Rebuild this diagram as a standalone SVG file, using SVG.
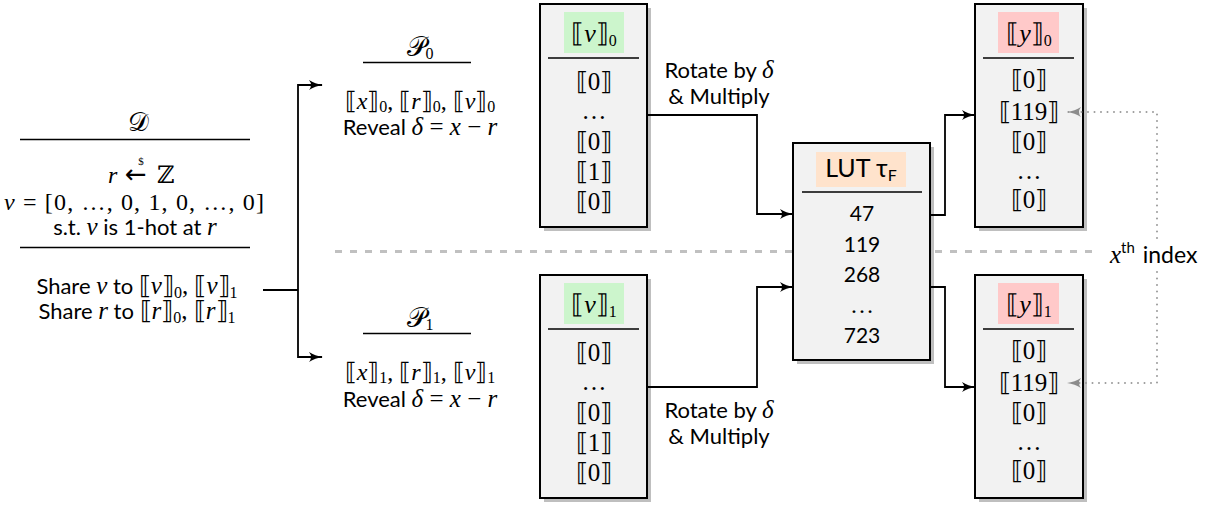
<svg xmlns="http://www.w3.org/2000/svg" width="1218" height="506" viewBox="0 0 1218 506">
  <style>
    .sans { font-family: "Lato", "Open Sans", "DejaVu Sans", sans-serif; font-size: 22px; fill: #000; }
    .m { font-family: "Liberation Serif", "DejaVu Serif", serif; font-style: italic; }
    .r { font-family: "Liberation Serif", "DejaVu Serif", serif; font-style: normal; }
    .math { font-family: "Liberation Serif", "DejaVu Serif", serif; font-size: 24px; fill: #000; }
    .head { font-size: 26px; }
    .big { font-size: 25px; }
    .sub { font-size: 16px; }
    .box { fill: #f2f2f2; stroke: #000; stroke-width: 2; }
    .shadow { fill: #bfbfbf; }
    .rule { stroke: #000; stroke-width: 1.3; }
    .wire { fill: none; stroke: #000; stroke-width: 1.8; }
    .hint { fill: none; stroke: #9a9a9a; stroke-width: 2; stroke-dasharray: 0 6.5; stroke-linecap: round; }
    .split { fill: none; stroke: #c0c0c0; stroke-width: 3; stroke-dasharray: 7 8; }
  </style>
  <defs>
    <marker id="arrow" viewBox="0 0 14 10" refX="13" refY="5" markerWidth="14" markerHeight="10" markerUnits="userSpaceOnUse" orient="auto">
      <path d="M0,0 Q6,4 14,5 Q6,6 0,10 Q4,5 0,0 z" fill="#000"/>
    </marker>
    <marker id="arrow-grey" viewBox="0 0 14 10" refX="13" refY="5" markerWidth="14" markerHeight="10" markerUnits="userSpaceOnUse" orient="auto">
      <path d="M0,0 Q6,4 14,5 Q6,6 0,10 Q4,5 0,0 z" fill="#8c8c8c"/>
    </marker>
  </defs>

  <rect width="1218" height="506" fill="#fff"/>

  <!-- separator between the two parties -->
  <path class="split" d="M335,251.5 H1100"/>

  <!-- dealer -->
  <g id="node-D">
    <text class="math" x="138" y="131" text-anchor="middle" style="font-size:26px">𝒟</text>
    <line class="rule" x1="20" y1="139.5" x2="250" y2="139.5"/>
    <text class="math" y="183"><tspan x="108" font-style="italic">r</tspan><tspan x="125" font-family="DejaVu Sans" style="font-size:26px">←</tspan><tspan x="157">ℤ</tspan></text>
    <text class="math" x="141" y="165" text-anchor="middle" style="font-size:11px">$</text>
    <text class="math" x="134" y="210" text-anchor="middle" textLength="260" lengthAdjust="spacing"><tspan font-style="italic">v</tspan> = [0, …, 0, 1, 0, …, 0]</text>
    <text class="sans" x="135" y="235" text-anchor="middle">s.t. <tspan class="m big">v</tspan> is 1-hot at <tspan class="m big">r</tspan></text>
    <line class="rule" x1="20" y1="247.5" x2="250" y2="247.5"/>
    <text class="sans" x="137" y="294" text-anchor="middle">Share <tspan class="m big">v</tspan> to <tspan class="r big">⟦</tspan><tspan class="m big">v</tspan><tspan class="r big">⟧</tspan><tspan class="r sub" dy="4">0</tspan><tspan class="r big" dy="-4">, ⟦</tspan><tspan class="m big">v</tspan><tspan class="r big">⟧</tspan><tspan class="r sub" dy="4">1</tspan></text>
    <text class="sans" x="137" y="319" text-anchor="middle">Share <tspan class="m big">r</tspan> to <tspan class="r big">⟦</tspan><tspan class="m big">r</tspan><tspan class="r big">⟧</tspan><tspan class="r sub" dy="4">0</tspan><tspan class="r big" dy="-4">, ⟦</tspan><tspan class="m big">r</tspan><tspan class="r big">⟧</tspan><tspan class="r sub" dy="4">1</tspan></text>
  </g>

  <!-- party 0 -->
  <g id="node-P0">
    <text class="math" x="420" y="56" text-anchor="middle" style="font-size:27px">𝒫<tspan class="sub" dy="3">0</tspan></text>
    <line class="rule" x1="363" y1="62.5" x2="471" y2="62.5"/>
    <text class="math" x="420" y="109" text-anchor="middle">⟦<tspan font-style="italic">x</tspan>⟧<tspan class="sub" dy="3">0</tspan><tspan dy="-3">, ⟦</tspan><tspan font-style="italic">r</tspan>⟧<tspan class="sub" dy="3">0</tspan><tspan dy="-3">, ⟦</tspan><tspan font-style="italic">v</tspan>⟧<tspan class="sub" dy="3">0</tspan></text>
    <text class="sans" x="420" y="135" text-anchor="middle">Reveal <tspan class="m big">δ</tspan><tspan class="r big"> = </tspan><tspan class="m big">x</tspan><tspan class="r big"> − </tspan><tspan class="m big">r</tspan></text>
  </g>

  <!-- party 1 -->
  <g id="node-P1">
    <text class="math" x="420" y="327" text-anchor="middle" style="font-size:27px">𝒫<tspan class="sub" dy="3">1</tspan></text>
    <line class="rule" x1="363" y1="333.5" x2="471" y2="333.5"/>
    <text class="math" x="420" y="380" text-anchor="middle">⟦<tspan font-style="italic">x</tspan>⟧<tspan class="sub" dy="3">1</tspan><tspan dy="-3">, ⟦</tspan><tspan font-style="italic">r</tspan>⟧<tspan class="sub" dy="3">1</tspan><tspan dy="-3">, ⟦</tspan><tspan font-style="italic">v</tspan>⟧<tspan class="sub" dy="3">1</tspan></text>
    <text class="sans" x="420" y="407" text-anchor="middle">Reveal <tspan class="m big">δ</tspan><tspan class="r big"> = </tspan><tspan class="m big">x</tspan><tspan class="r big"> − </tspan><tspan class="m big">r</tspan></text>
  </g>

  <!-- one-hot share held by party 0 -->
  <g id="node-v0">
    <rect class="shadow" x="544" y="8" width="107" height="223"/>
    <rect class="box" x="540" y="4" width="107" height="223"/>
    <rect x="564" y="12" width="60" height="41" fill="#ccf5cc"/>
    <text class="math head" x="594" y="42" text-anchor="middle">⟦<tspan font-style="italic">v</tspan>⟧<tspan class="sub" dy="4">0</tspan></text>
    <line class="rule" x1="548" y1="58" x2="639" y2="58"/>
    <g class="math big" text-anchor="middle">
      <text x="594" y="90">⟦0⟧</text>
      <text x="594" y="119">…</text>
      <text x="594" y="150">⟦0⟧</text>
      <text x="594" y="180">⟦1⟧</text>
      <text x="594" y="210">⟦0⟧</text>
    </g>
  </g>

  <!-- one-hot share held by party 1 -->
  <g id="node-v1">
    <rect class="shadow" x="544" y="279" width="107" height="223"/>
    <rect class="box" x="540" y="275" width="107" height="223"/>
    <rect x="564" y="283" width="60" height="41" fill="#ccf5cc"/>
    <text class="math head" x="594" y="313" text-anchor="middle">⟦<tspan font-style="italic">v</tspan>⟧<tspan class="sub" dy="4">1</tspan></text>
    <line class="rule" x1="548" y1="329" x2="639" y2="329"/>
    <g class="math big" text-anchor="middle">
      <text x="594" y="361">⟦0⟧</text>
      <text x="594" y="390">…</text>
      <text x="594" y="421">⟦0⟧</text>
      <text x="594" y="451">⟦1⟧</text>
      <text x="594" y="481">⟦0⟧</text>
    </g>
  </g>

  <!-- public lookup table -->
  <g id="node-lut">
    <rect class="shadow" x="797" y="147" width="137" height="217"/>
    <rect class="box" x="793" y="143" width="137" height="217"/>
    <rect x="816" y="152" width="90" height="35" fill="#ffe3cc"/>
    <text class="sans" x="861" y="177" text-anchor="middle" style="font-size:25px">LUT τ<tspan style="font-size:16px" dy="4">F</tspan></text>
    <line class="rule" x1="802" y1="192" x2="922" y2="192"/>
    <g class="sans" text-anchor="middle" style="font-size:21px">
      <text x="862" y="221">47</text>
      <text x="862" y="252">119</text>
      <text x="862" y="282">268</text>
      <text class="math" x="862" y="313">…</text>
      <text x="862" y="343">723</text>
    </g>
  </g>

  <!-- output share of party 0 -->
  <g id="node-y0">
    <rect class="shadow" x="979" y="8" width="108" height="223"/>
    <rect class="box" x="975" y="4" width="108" height="223"/>
    <rect x="998" y="12" width="61" height="41" fill="#ffc9c9"/>
    <text class="math head" x="1029" y="42" text-anchor="middle">⟦<tspan font-style="italic">y</tspan>⟧<tspan class="sub" dy="4">0</tspan></text>
    <line class="rule" x1="983" y1="58" x2="1074" y2="58"/>
    <g class="math big" text-anchor="middle">
      <text x="1029" y="88">⟦0⟧</text>
      <text x="1029" y="120">⟦119⟧</text>
      <text x="1029" y="150">⟦0⟧</text>
      <text x="1029" y="179">…</text>
      <text x="1029" y="208">⟦0⟧</text>
    </g>
  </g>

  <!-- output share of party 1 -->
  <g id="node-y1">
    <rect class="shadow" x="979" y="279" width="108" height="223"/>
    <rect class="box" x="975" y="275" width="108" height="223"/>
    <rect x="998" y="283" width="61" height="41" fill="#ffc9c9"/>
    <text class="math head" x="1029" y="313" text-anchor="middle">⟦<tspan font-style="italic">y</tspan>⟧<tspan class="sub" dy="4">1</tspan></text>
    <line class="rule" x1="983" y1="329" x2="1074" y2="329"/>
    <g class="math big" text-anchor="middle">
      <text x="1029" y="359">⟦0⟧</text>
      <text x="1029" y="391">⟦119⟧</text>
      <text x="1029" y="421">⟦0⟧</text>
      <text x="1029" y="450">…</text>
      <text x="1029" y="479">⟦0⟧</text>
    </g>
  </g>

  <!-- index label -->
  <g id="label-index">
    <text class="sans" x="1110" y="263"><tspan class="m big">x</tspan><tspan style="font-size:15px" dy="-10">th</tspan><tspan dx="2" dy="10" style="font-size:23px"> index</tspan></text>
  </g>

  <g id="connectors">
    <path class="wire" d="M263,290 H298"/>
    <path class="wire" d="M298,290 V85 H322" marker-end="url(#arrow)"/>
    <path class="wire" d="M298,290 V357 H322" marker-end="url(#arrow)"/>
    <path class="wire" d="M647,115 H757 V214 H793" marker-end="url(#arrow)"/>
    <path class="wire" d="M647,387 H757 V287 H793" marker-end="url(#arrow)"/>
    <path class="wire" d="M930,215 H945 V115 H975" marker-end="url(#arrow)"/>
    <path class="wire" d="M930,287 H945 V387 H975" marker-end="url(#arrow)"/>
    <path class="hint" d="M1157,238 V112 H1068" marker-end="url(#arrow-grey)"/>
    <path class="hint" d="M1157,272 V383 H1068" marker-end="url(#arrow-grey)"/>
    <text class="sans" x="719" y="78" text-anchor="middle">Rotate by <tspan class="m big">δ</tspan></text>
    <text class="sans" x="719" y="104" text-anchor="middle">&amp; Multiply</text>
    <text class="sans" x="719" y="418" text-anchor="middle">Rotate by <tspan class="m big">δ</tspan></text>
    <text class="sans" x="719" y="444" text-anchor="middle">&amp; Multiply</text>
  </g>
</svg>
